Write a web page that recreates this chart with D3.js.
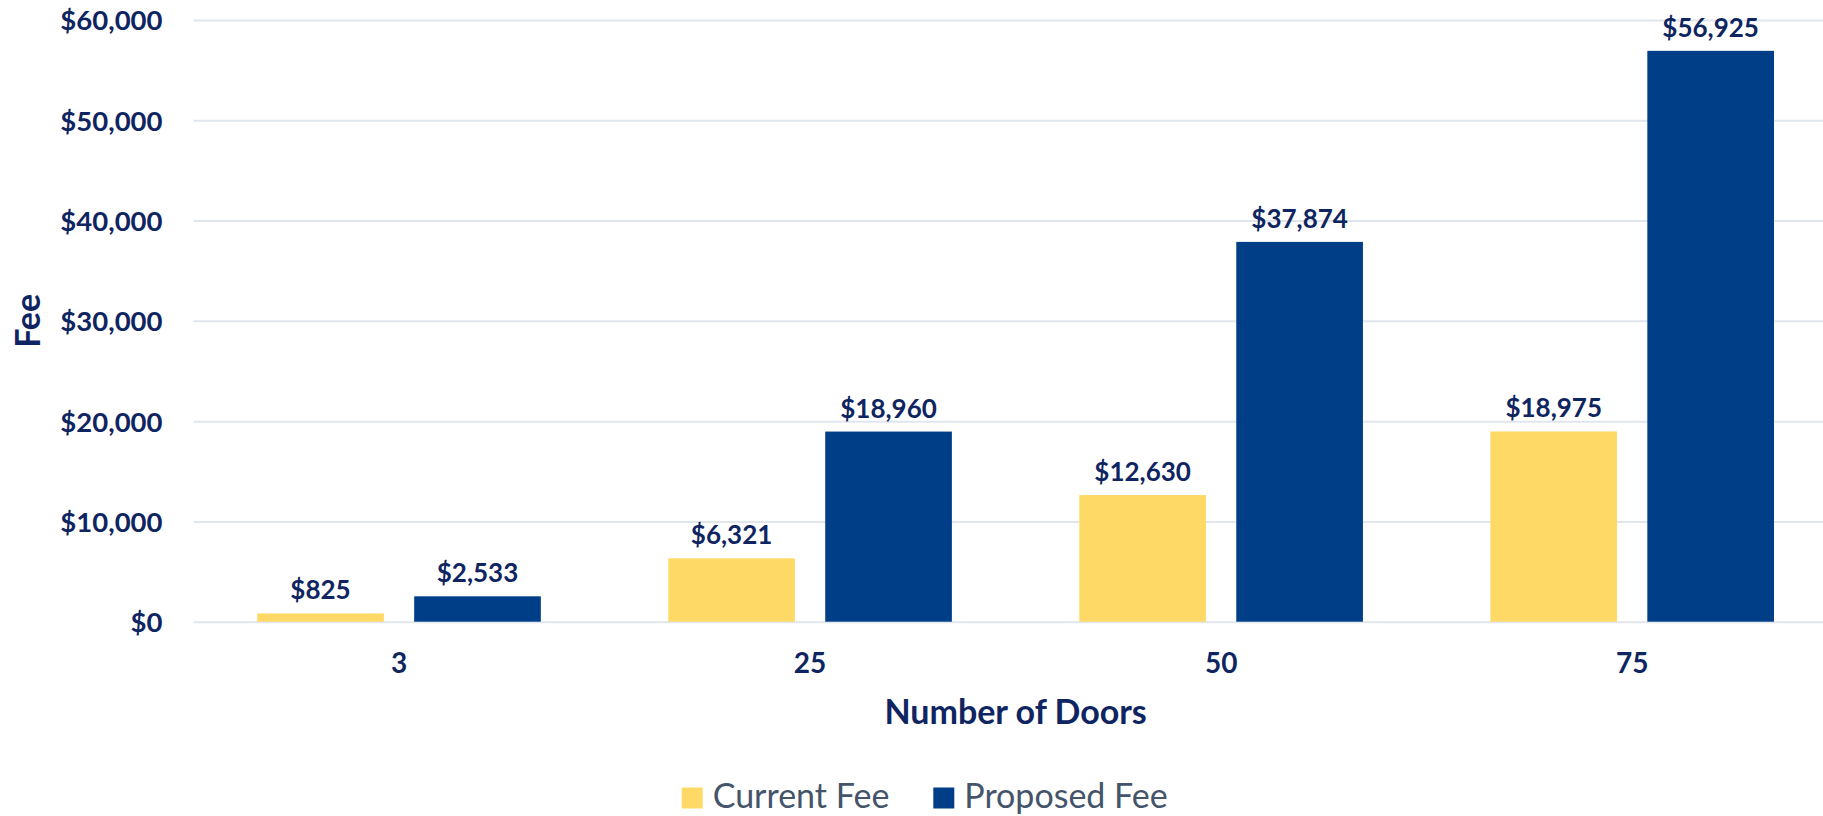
<!DOCTYPE html>
<html>
<head>
<meta charset="utf-8">
<script src="https://cdn.jsdelivr.net/npm/d3@7"></script>
<style>
  html, body { margin: 0; padding: 0; background: #ffffff; overflow: hidden; }
  svg { display: block; }
</style>
</head>
<body>
<svg id="chart" width="1823" height="816"></svg>
<script>
// ---- data ----
const categories = ["3", "25", "50", "75"];
const seriesNames = ["Current Fee", "Proposed Fee"];
const currentFee = [825, 6321, 12630, 18975];
const proposedFee = [2533, 18960, 37874, 56925];
const yTickValues = [0, 10000, 20000, 30000, 40000, 50000, 60000];
const xTitle = "Number of Doors";
const yTitle = "Fee";

// ---- style ----
const colors = { "Current Fee": "#FFD966", "Proposed Fee": "#003F87" };
const textColor = "#0F2561";
const legendColor = "#44546A";
const gridColor = "#E1E5EC";
const fontFamily = "Lato, 'Open Sans', sans-serif";

const svg = d3.select("#chart");
const W = 1823, H = 816;
const plot = { left: 193.5, right: 1837.7, top: 20, bottom: 621.7 };

const x0 = d3.scaleBand()
  .domain(categories)
  .range([plot.left, plot.right])
  .paddingInner(0.31)
  .paddingOuter(0.155);

const x1 = d3.scaleBand()
  .domain(seriesNames)
  .range([0, x0.bandwidth()])
  .paddingInner(0.193);

const y = d3.scaleLinear()
  .domain([0, 60000])
  .range([plot.bottom, plot.top]);

const fmt = d3.format("$,");

// gridlines + y tick labels
const yAxis = d3.axisLeft(y)
  .tickValues(yTickValues)
  .tickFormat(fmt)
  .tickSize(-(W - plot.left))
  .tickPadding(31);

const gy = svg.append("g")
  .attr("transform", `translate(${plot.left},0)`)
  .call(yAxis);
gy.select(".domain").remove();
gy.selectAll(".tick line")
  .attr("stroke", gridColor)
  .attr("stroke-width", 2);
gy.selectAll(".tick text")
  .attr("fill", textColor)
  .attr("font-family", fontFamily)
  .attr("font-weight", 700)
  .attr("font-size", 27.5)
  .attr("dy", "0.36em");

// x axis labels
const xAxis = d3.axisBottom(x0).tickSize(0).tickPadding(0);
const gx = svg.append("g")
  .attr("transform", `translate(0,${plot.bottom})`)
  .call(xAxis);
gx.select(".domain").remove();
gx.selectAll(".tick text")
  .attr("fill", textColor)
  .attr("font-family", fontFamily)
  .attr("font-weight", 700)
  .attr("font-size", 28)
  .attr("dy", 0)
  .attr("y", 51.5);

// bars
const rows = categories.map((c, i) => ({
  category: c,
  values: [
    { series: "Current Fee", value: currentFee[i] },
    { series: "Proposed Fee", value: proposedFee[i] }
  ]
}));

const groups = svg.append("g").selectAll("g")
  .data(rows)
  .join("g")
  .attr("transform", d => `translate(${x0(d.category)},0)`);

groups.selectAll("rect")
  .data(d => d.values)
  .join("rect")
  .attr("x", d => x1(d.series))
  .attr("width", x1.bandwidth())
  .attr("y", d => y(d.value))
  .attr("height", d => y(0) - y(d.value))
  .attr("fill", d => colors[d.series]);

groups.selectAll("text.value")
  .data(d => d.values)
  .join("text")
  .attr("class", "value")
  .attr("x", d => x1(d.series) + x1.bandwidth() / 2)
  .attr("y", d => y(d.value) - 14)
  .attr("text-anchor", "middle")
  .attr("fill", textColor)
  .attr("font-family", fontFamily)
  .attr("font-weight", 700)
  .attr("font-size", 26)
  .text(d => fmt(d.value));

// axis titles
svg.append("text")
  .attr("x", (plot.left + plot.right) / 2)
  .attr("y", 724)
  .attr("text-anchor", "middle")
  .attr("fill", textColor)
  .attr("font-family", fontFamily)
  .attr("font-weight", 700)
  .attr("font-size", 34)
  .text(xTitle);

svg.append("text")
  .attr("transform", `translate(40,${(plot.top + plot.bottom) / 2}) rotate(-90)`)
  .attr("text-anchor", "middle")
  .attr("fill", textColor)
  .attr("font-family", fontFamily)
  .attr("font-weight", 700)
  .attr("font-size", 34)
  .text(yTitle);

// legend
const legendX = [681.7, 933.3];
const legend = svg.append("g").selectAll("g")
  .data(seriesNames)
  .join("g")
  .attr("transform", (d, i) => `translate(${legendX[i]},0)`);
legend.append("rect")
  .attr("x", 0)
  .attr("y", 787.5)
  .attr("width", 21)
  .attr("height", 21)
  .attr("fill", d => colors[d]);
legend.append("text")
  .attr("x", 31)
  .attr("y", 808)
  .attr("fill", legendColor)
  .attr("font-family", fontFamily)
  .attr("font-weight", 400)
  .attr("font-size", 34)
  .text(d => d);
</script>
</body>
</html>
